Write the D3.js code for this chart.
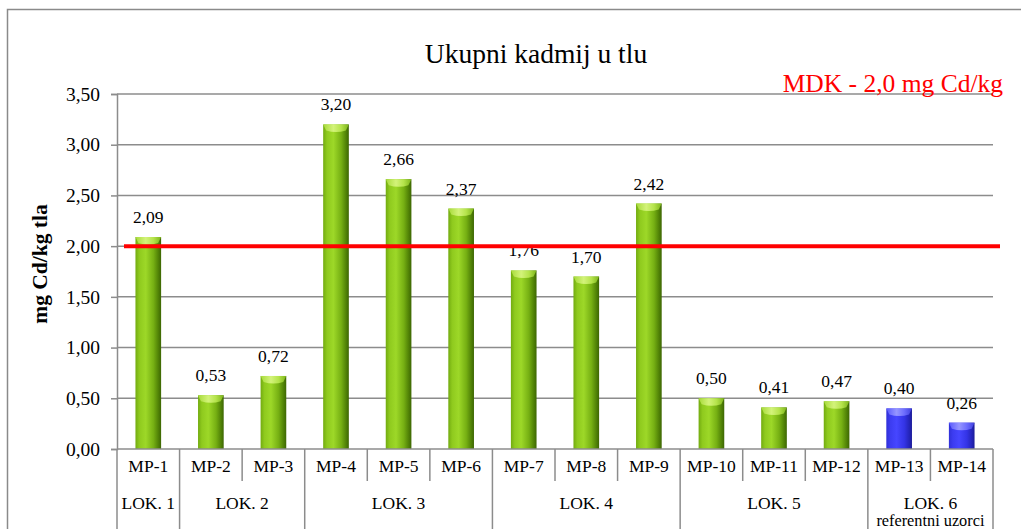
<!DOCTYPE html>
<html>
<head>
<meta charset="utf-8">
<script src="https://cdn.jsdelivr.net/npm/d3@7"></script>
<style>
  html, body { margin: 0; padding: 0; background: #fff; }
  svg { display: block; }
  svg text { font-family: "Liberation Serif", "Times New Roman", Times, "DejaVu Serif", serif; }
</style>
</head>
<body>
<svg id="chart" width="1021" height="529"></svg>
<script>
// Sample points, their measured total cadmium (mg Cd/kg soil) and location groups
const samples = ["MP-1","MP-2","MP-3","MP-4","MP-5","MP-6","MP-7","MP-8","MP-9","MP-10","MP-11","MP-12","MP-13","MP-14"];
const cadmium = [2.09, 0.53, 0.72, 3.20, 2.66, 2.37, 1.76, 1.70, 2.42, 0.50, 0.41, 0.47, 0.40, 0.26];
const sampleKind = ["site","site","site","site","site","site","site","site","site","site","site","site","ref","ref"];
const locations = ["LOK. 1","LOK. 2","LOK. 3","LOK. 4","LOK. 5","LOK. 6"];
const locationSize = [1, 2, 3, 3, 3, 2];
const locationNote = ["", "", "", "", "", "referentni uzorci"];
const yTicks = [0, 0.5, 1.0, 1.5, 2.0, 2.5, 3.0, 3.5];
const limitValue = 2.0;
const limitLabel = "MDK - 2,0 mg Cd/kg";
const titleText = "Ukupni kadmij u tlu";
const yLabel = "mg Cd/kg tla";

const svg = d3.select("#chart");
const comma = v => d3.format(".2f")(v).replace(".", ",");

const plot = { left: 117, right: 993, top: 94, bottom: 449 };

const x = d3.scaleBand().domain(samples).range([plot.left, plot.right]).paddingInner(0).paddingOuter(0);
const y = d3.scaleLinear().domain([0, 3.5]).range([plot.bottom, plot.top]);

// Gradients for cylinder-style bars
const defs = svg.append("defs");
function cylGrad(id, stops) {
  const g = defs.append("linearGradient").attr("id", id).attr("x1", "0").attr("x2", "1").attr("y1", "0").attr("y2", "0");
  stops.forEach(s => g.append("stop").attr("offset", s[0]).attr("stop-color", s[1]));
}
cylGrad("bodySite", [[0, "#72ab10"], [0.15, "#8fca1e"], [0.4, "#9dd828"], [0.7, "#76b013"], [0.9, "#4f8006"], [1, "#3d6603"]]);
cylGrad("capSite", [[0, "#a8dc3a"], [0.4, "#d6f47e"], [0.7, "#b8e64e"], [1, "#7fb81a"]]);
cylGrad("bodyRef", [[0, "#3030d8"], [0.15, "#3c3cf0"], [0.4, "#4646ff"], [0.7, "#3434e6"], [0.9, "#2424b8"], [1, "#1c1c98"]]);
cylGrad("capRef", [[0, "#5a5aff"], [0.4, "#9a9aff"], [0.7, "#7070ff"], [1, "#4040e0"]]);

// Outer frame
svg.append("rect").attr("x", 7.5).attr("y", 9.5).attr("width", 1040).attr("height", 560)
  .attr("fill", "none").attr("stroke", "#8a8a8a").attr("stroke-width", 1.5);

// Title
svg.append("text").attr("x", 536).attr("y", 63).attr("text-anchor", "middle")
  .attr("font-size", 27.5).attr("fill", "#000").text(titleText);

// Horizontal gridlines
svg.append("g").selectAll("line").data(yTicks.filter(d => d > 0)).join("line")
  .attr("x1", plot.left).attr("x2", plot.right)
  .attr("y1", d => y(d)).attr("y2", d => y(d))
  .attr("stroke", "#8c8c8c").attr("stroke-width", 1.5);

// Y axis with ticks
const yAxis = d3.axisLeft(y).tickValues(yTicks).tickSize(6).tickPadding(11).tickFormat(comma);
const gy = svg.append("g").attr("transform", `translate(${plot.left},0)`).call(yAxis);
gy.attr("font-family", null).attr("font-size", null);
gy.select(".domain").attr("stroke", "#8c8c8c").attr("stroke-width", 1.5);
gy.selectAll(".tick line").attr("stroke", "#8c8c8c").attr("stroke-width", 1.5);
gy.selectAll(".tick text").attr("font-size", 19.5).attr("fill", "#000");

// Y axis title
svg.append("text").attr("transform", `translate(47,264) rotate(-90)`)
  .attr("text-anchor", "middle").attr("font-size", 21.5)
  .attr("font-weight", "bold").attr("fill", "#000").text(yLabel);

// Bars
const bw = x.bandwidth() * 0.41;
const capH = 6;
const bars = svg.append("g").selectAll("g").data(samples).join("g");
bars.append("rect")
  .attr("x", d => x(d) + x.bandwidth() / 2 - bw / 2)
  .attr("y", (d, i) => y(cadmium[i]))
  .attr("width", bw)
  .attr("height", (d, i) => y(0) - y(cadmium[i]))
  .attr("fill", (d, i) => sampleKind[i] === "ref" ? "url(#bodyRef)" : "url(#bodySite)");
bars.append("path")
  .attr("d", (d, i) => {
    const cx = x(d) + x.bandwidth() / 2, top = y(cadmium[i]);
    const l = cx - bw / 2, r = cx + bw / 2;
    return `M${l},${top} L${r},${top} L${r - 3},${top + capH} Q${cx},${top + capH + 3} ${l + 3},${top + capH} Z`;
  })
  .attr("fill", (d, i) => sampleKind[i] === "ref" ? "url(#capRef)" : "url(#capSite)")
  .attr("opacity", 0.95);

// Value labels
svg.append("g").selectAll("text").data(samples).join("text")
  .attr("x", d => x(d) + x.bandwidth() / 2)
  .attr("y", (d, i) => y(cadmium[i]) - 14)
  .attr("text-anchor", "middle").attr("font-size", 17.5).attr("fill", "#000")
  .text((d, i) => comma(cadmium[i]));

// Limit line (MDK)
svg.append("line")
  .attr("x1", 124).attr("x2", 1000)
  .attr("y1", y(limitValue)).attr("y2", y(limitValue))
  .attr("stroke", "#ff0000").attr("stroke-width", 4);
svg.append("text").attr("x", 1003).attr("y", 92).attr("text-anchor", "end")
  .attr("font-size", 25.5).attr("fill", "#ff0000").text(limitLabel);

// Category axis table: sample row and location row
const axisColor = "#8c8c8c";
const gx = svg.append("g");
gx.append("line").attr("x1", plot.left).attr("x2", plot.right).attr("y1", plot.bottom).attr("y2", plot.bottom)
  .attr("stroke", axisColor).attr("stroke-width", 1.5);

// group boundary indices
const bounds = [0];
locationSize.forEach((n, i) => bounds.push(bounds[i] + n));
const edgeX = i => i < samples.length ? x(samples[i]) : plot.right;

// short separators between samples inside a group
d3.range(1, samples.length).filter(i => !bounds.includes(i)).forEach(i => {
  gx.append("line").attr("x1", edgeX(i)).attr("x2", edgeX(i)).attr("y1", plot.bottom).attr("y2", 481)
    .attr("stroke", axisColor).attr("stroke-width", 1.5);
});
// full separators between groups
bounds.forEach(i => {
  gx.append("line").attr("x1", edgeX(i)).attr("x2", edgeX(i)).attr("y1", plot.bottom).attr("y2", 540)
    .attr("stroke", axisColor).attr("stroke-width", 1.5);
});

gx.selectAll("text.sample").data(samples).join("text").attr("class", "sample")
  .attr("x", d => x(d) + x.bandwidth() / 2).attr("y", 472)
  .attr("text-anchor", "middle").attr("font-size", 17.5).attr("fill", "#000")
  .text(d => d);

gx.selectAll("text.loc").data(locations).join("text").attr("class", "loc")
  .attr("x", (d, i) => (edgeX(bounds[i]) + edgeX(bounds[i + 1])) / 2).attr("y", 509)
  .attr("text-anchor", "middle").attr("font-size", 17.5).attr("fill", "#000")
  .text(d => d);

gx.selectAll("text.note").data(locationNote).join("text").attr("class", "note")
  .attr("x", (d, i) => (edgeX(bounds[i]) + edgeX(bounds[i + 1])) / 2).attr("y", 526)
  .attr("text-anchor", "middle").attr("font-size", 16.3).attr("fill", "#000")
  .text(d => d);
</script>
</body>
</html>
